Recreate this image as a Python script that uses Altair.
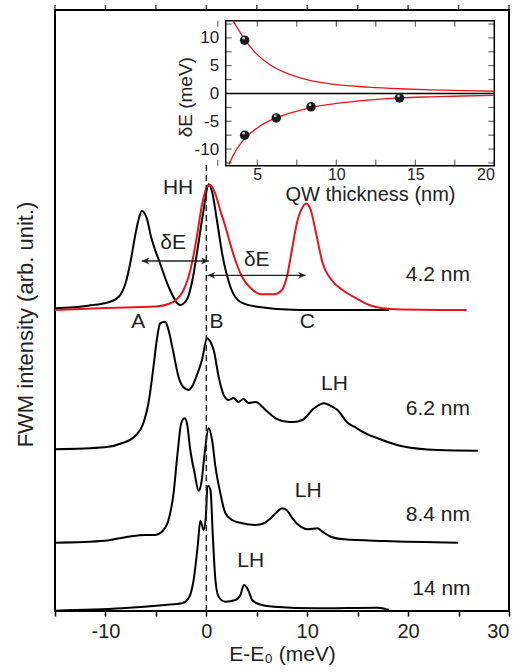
import altair as alt
import pandas as pd

FONT = "Liberation Sans"
RED = "#e3161e"

# ---------------- main panel: FWM spectra (E-E0 in meV, intensity arb. units, vertically offset) -------------
e_42_hh = [-15.0, -11.7, -9.7, -8.7, -8.0, -7.5, -7.1, -6.75, -6.4, -5.9, -5.5, -4.6, -3.6, -2.6, -1.9, -1.3,
           -0.93, -0.27, 0.23, 0.57, 1.06, 1.56, 2.39, 3.38, 5.04, 9.15, 18.1]
i_42_hh = [30.27, 30.53, 30.87, 31.4, 32.8, 35.0, 37.3, 39.0, 40.0, 39.27, 37.5, 34.8, 32.1, 30.6, 31.2, 33.5,
           35.8, 40.1, 42.67, 41.93, 39.0, 35.8, 32.4, 30.9, 30.43, 30.1, 30.1]

e_42_red = [-15.0, -10.0, -5.0, -3.75, -3.0, -2.3, -1.8, -1.4, -0.93, -0.43, 0.07, 0.4, 0.9, 1.4, 1.9, 2.4,
            2.9, 3.55, 4.38, 5.5, 6.7, 7.5, 8.0, 8.5, 9.0, 9.55, 9.9, 10.35, 10.85, 11.5, 12.5, 13.5, 14.8,
            16.15, 17.5, 19.3, 25.8]
i_42_red = [30.1, 30.3, 30.45, 30.7, 31.1, 32.0, 33.3, 34.9, 37.5, 40.6, 42.4, 42.6, 41.7, 40.0, 38.4, 36.6,
            35.0, 33.4, 32.3, 31.67, 31.67, 32.1, 33.5, 36.2, 38.9, 40.4, 40.75, 40.1, 37.9, 34.9, 33.0, 32.1,
            31.3, 30.6, 30.27, 30.15, 30.1]

e_62 = [-15.0, -10.05, -8.39, -7.06, -6.24, -5.74, -5.24, -4.91, -4.58, -4.08, -3.75, -3.25, -2.76, -2.26,
        -1.76, -1.42, -0.93, -0.43, 0.07, 0.40, 0.73, 1.22, 1.72, 2.22, 2.69, 3.18, 3.68, 4.18, 4.88, 5.87,
        6.87, 8.03, 8.66, 9.52, 10.68, 11.67, 12.34, 13.0, 14.0, 14.66, 15.99, 16.99, 19.3, 22.96, 26.94]
i_62 = [16.17, 16.37, 16.77, 17.5, 18.77, 20.77, 24.43, 27.1, 28.77, 28.93, 28.1, 25.77, 23.43, 22.37,
        22.1, 22.43, 23.6, 25.1, 27.27, 26.93, 26.1, 23.43, 21.6, 21.1, 21.3, 20.9, 21.2, 20.8, 20.9, 20.1,
        19.27, 18.93, 18.9, 19.1, 20.27, 20.77, 20.5, 20.1, 18.83, 18.43, 17.67, 17.27, 16.5, 16.1, 16.03]

e_84 = [-15.0, -10.05, -7.73, -6.07, -5.07, -4.41, -3.75, -3.25, -2.82, -2.49, -2.16, -1.92, -1.59, -1.16,
        -0.77, -0.50, -0.17, 0.23, 0.57, 0.90, 1.39, 1.89, 2.56, 3.55, 4.88, 5.72, 6.37, 7.03, 7.53, 8.03,
        8.53, 9.35, 10.02, 11.01, 11.51, 12.34, 13.66, 17.64, 24.95]
i_84 = [6.83, 7.03, 7.43, 7.6, 7.6, 7.93, 9.1, 11.77, 16.1, 18.77, 19.27, 18.77, 16.1, 13.77,
        12.03, 12.77, 15.77, 18.27, 17.1, 14.43, 11.77, 9.77, 9.1, 8.77, 8.6, 8.77, 9.27, 9.93, 10.27, 10.03,
        9.27, 8.43, 8.17, 8.27, 7.93, 7.43, 7.17, 7.0, 6.83]

e_14 = [-15.0, -8.39, -4.08, -2.42, -1.76, -1.26, -0.83, -0.60, -0.43, -0.27, -0.03, 0.10, 0.23, 0.43, 0.63,
        0.90, 1.22, 1.89, 2.89, 3.38, 3.73, 4.15, 4.55, 5.20, 6.70, 11.01, 16.99, 18.1]
i_14 = [0.03, 0.27, 0.6, 0.77, 1.27, 3.1, 6.77, 9.03, 8.6, 8.1, 9.77, 12.4, 12.5, 11.93, 7.77,
        3.1, 1.43, 0.93, 1.1, 1.6, 2.6, 2.1, 1.1, 0.7, 0.43, 0.27, 0.33, 0.1]

trace_names = ["4.2 nm", "4.2 nm (LH)", "6.2 nm", "8.4 nm", "14 nm"]
trace_colors = ["black", RED, "black", "black", "black"]

# annotations in the main panel
label_text = ["HH", "δE", "δE", "A", "B", "C", "4.2 nm", "LH", "6.2 nm", "LH", "8.4 nm", "LH", "14 nm"]
label_e = [-2.8, -3.3, 5.0, -6.75, 1.0, 10.0, 22.95, 12.7, 22.95, 10.1, 22.95, 4.4, 23.3]
label_i = [42.3, 36.8, 35.1, 28.9, 28.9, 28.9, 33.6, 22.7, 20.2, 12.0, 9.6, 5.0, 2.2]

arrow_start = [-6.4, 0.13]
arrow_end = [0.23, 9.85]
arrow_level = [35.0, 33.57]

dash_e = [0]
dash_top = [44.8]

main_ticks = [-15, -10, -5, 0, 5, 10, 15, 20, 25, 30]
main_e_domain = [-15, 30]
main_i_domain = [0, 60.1]

# ---------------- inset: delta E versus QW thickness -------------
qw_thickness = [4.2, 4.2, 6.2, 8.4, 14.0]
delta_e = [9.6, -7.5, -4.4, -2.4, -0.8]

fit_up_l = [3.45, 3.7, 4.0, 4.5, 5.0, 5.5, 6.0, 7.0, 8.0, 9.0, 10.0, 12.0, 14.0, 16.0, 18.0, 20.0]
fit_up_de = [13.1, 12.0, 10.6, 8.6, 7.0, 5.8, 4.8, 3.5, 2.6, 2.0, 1.6, 1.15, 0.85, 0.65, 0.5, 0.4]
fit_lo_l = [3.2, 3.5, 4.0, 4.5, 5.0, 5.5, 6.0, 7.0, 8.0, 9.0, 10.0, 12.0, 14.0, 16.0, 18.0, 20.0]
fit_lo_de = [-12.8, -11.0, -8.8, -7.3, -6.2, -5.3, -4.6, -3.6, -2.8, -2.2, -1.8, -1.2, -0.8, -0.6, -0.45, -0.35]

inset_x_ticks = [2.5, 5, 7.5, 10, 12.5, 15, 17.5, 20]
inset_y_ticks = [-12.5, -10, -7.5, -5, -2.5, 0, 2.5, 5, 7.5, 10, 12.5]
inset_x_labels = [5, 10, 15, 20]
inset_y_labels = [-10, -5, 0, 5, 10]
inset_l_domain = [3, 20]
inset_de_domain = [-13, 13.1]

# ---------------- build tables -------------
frames = []
for name, e, i in zip(trace_names, [e_42_hh, e_42_red, e_62, e_84, e_14],
                      [i_42_hh, i_42_red, i_62, i_84, i_14]):
    frames.append(pd.DataFrame({"E": e, "I": i, "trace": name, "k": range(len(e))}))
spectra = pd.concat(frames, ignore_index=True)

labels = pd.DataFrame({"E": label_e, "I": label_i, "t": label_text})
arrows = pd.DataFrame({"E": arrow_start, "E2": arrow_end, "I": arrow_level})
arrow_tips_l = pd.DataFrame({"E": arrow_start, "I": arrow_level})
arrow_tips_r = pd.DataFrame({"E": arrow_end, "I": arrow_level})
dash = pd.DataFrame({"E": dash_e, "I": [main_i_domain[0]], "I2": dash_top})
top_ticks = pd.DataFrame({"E": main_ticks})

points = pd.DataFrame({"L": qw_thickness, "dE": delta_e})
fits = pd.concat([
    pd.DataFrame({"L": fit_up_l, "dE": fit_up_de, "branch": "up", "k": range(len(fit_up_l))}),
    pd.DataFrame({"L": fit_lo_l, "dE": fit_lo_de, "branch": "lo", "k": range(len(fit_lo_l))}),
], ignore_index=True)
inset_box = pd.DataFrame({"L": [inset_l_domain[0]], "L2": [inset_l_domain[1]],
                          "dE": [inset_de_domain[0]], "dE2": [inset_de_domain[1]]})
zero_line = pd.DataFrame({"L": [inset_l_domain[0]], "L2": [inset_l_domain[1]], "dE": [0]})
xt_bottom = pd.DataFrame({"L": inset_x_ticks, "dE": inset_de_domain[0]})
xt_top = pd.DataFrame({"L": inset_x_ticks, "dE": inset_de_domain[1]})
yt_left = pd.DataFrame({"dE": inset_y_ticks, "L": inset_l_domain[0]})
yt_right = pd.DataFrame({"dE": inset_y_ticks, "L": inset_l_domain[1]})

W, H = 454, 601

# ---------------- main layers (identical encodings everywhere so axes merge) -------------
x_main = alt.X("E:Q", scale=alt.Scale(domain=main_e_domain, nice=False, zero=False),
               axis=alt.Axis(values=main_ticks,
                             labelExpr="datum.value % 10 === 0 ? '' + datum.value : ''",
                             title="E-E₀ (meV)", tickSize=5, tickWidth=1.5, tickColor="black",
                             domain=False, grid=False, labelFontSize=20, labelPadding=5,
                             labelColor="#222", titleColor="#222",
                             titleFontSize=21, titlePadding=2, titleFontWeight="normal"))
y_main = alt.Y("I:Q", scale=alt.Scale(domain=main_i_domain, nice=False, zero=False),
               axis=alt.Axis(title="FWM intensity (arb. unit.)", labels=False, ticks=False,
                             domain=False, grid=False, titleFontSize=22, titleFontWeight="normal",
                             titleColor="#222", titleX=-30, titleY=314, titleAngle=270,
                             titleAlign="center", titleBaseline="middle"))

lines = alt.Chart(spectra).mark_line(strokeWidth=2, strokeJoin="round", interpolate="monotone").encode(
    x=x_main, y=y_main,
    color=alt.Color("trace:N", scale=alt.Scale(domain=trace_names, range=trace_colors), legend=None),
    detail="trace:N", order="k:Q")

dashed = alt.Chart(dash).mark_rule(strokeDash=[6, 4], strokeWidth=1.5, color="#222").encode(
    x=x_main, y=y_main, y2="I2:Q")

texts = alt.Chart(labels).mark_text(font=FONT, fontSize=21, color="#222", align="center",
                                    baseline="middle").encode(x=x_main, y=y_main, text="t:N")

arrow_lines = alt.Chart(arrows).mark_rule(strokeWidth=1.3, color="#222").encode(
    x=x_main, x2="E2:Q", y=y_main)
head_left = alt.Chart(arrow_tips_l).mark_point(shape="M0,0L1,-0.45L0.7,0L1,0.45Z", size=230, filled=True,
                                               color="#222", opacity=1).encode(x=x_main, y=y_main)
head_right = alt.Chart(arrow_tips_r).mark_point(shape="M0,0L-1,-0.45L-0.7,0L-1,0.45Z", size=230, filled=True,
                                                color="#222", opacity=1).encode(x=x_main, y=y_main)
top_tick_marks = alt.Chart(top_ticks).mark_tick(orient="vertical", size=5, thickness=1.5, color="black",
                                                yOffset=-2.5).encode(x=x_main, y=alt.value(0))

main = alt.layer(lines, dashed, arrow_lines, head_left, head_right, texts, top_tick_marks)

# ---------------- inset layers -------------
x_in = alt.X("L:Q", scale=alt.Scale(domain=inset_l_domain, range=[170.7, 439.3], nice=False, zero=False),
             axis=alt.Axis(orient="bottom", offset=-445.3, values=inset_x_labels, ticks=False, tickSize=0,
                           domain=False, grid=False, labelFontSize=16, labelPadding=1, labelColor="#222",
                           title="QW thickness (nm)", titleFontSize=20, titleFontWeight="normal",
                           titleColor="#222", titleX=315, titleY=29, titleBaseline="middle",
                           titleAlign="center"))
y_in = alt.Y("dE:Q", scale=alt.Scale(domain=inset_de_domain, range=[155.7, 10.7], nice=False, zero=False),
             axis=alt.Axis(orient="left", offset=-170.7, values=inset_y_labels, ticks=False, tickSize=0,
                           domain=False, grid=False, labelFontSize=17, labelPadding=7, labelColor="#222",
                           labelExpr="'' + datum.value",
                           title="δE (meV)", titleFontSize=19, titleFontWeight="normal", titleColor="#222",
                           titleX=-40.7, titleY=86.7, titleAngle=270, titleAlign="center",
                           titleBaseline="middle"))

box = alt.Chart(inset_box).mark_rect(fill="white", stroke="black", strokeWidth=1.5).encode(
    x=x_in, x2="L2:Q", y=y_in, y2="dE2:Q")
zero = alt.Chart(zero_line).mark_rule(color="black", strokeWidth=1.3).encode(
    x=x_in, x2="L2:Q", y=y_in)
fit_lines = alt.Chart(fits).mark_line(color=RED, strokeWidth=1.3, clip=True, interpolate="monotone").encode(
    x=x_in, y=y_in, detail="branch:N", order="k:Q")
balls = alt.Chart(points).mark_point(shape="circle", size=90, filled=True, color="#1a1a1a",
                                     opacity=1).encode(x=x_in, y=y_in)
shine = alt.Chart(points).mark_point(shape="circle", size=7, filled=True, color="#d8d8d8", opacity=0.9,
                                     xOffset=-1, yOffset=-2).encode(x=x_in, y=y_in)
tb = alt.Chart(xt_bottom).mark_tick(orient="vertical", size=6, thickness=1, color="black",
                                    yOffset=-3).encode(x=x_in, y=y_in)
tt = alt.Chart(xt_top).mark_tick(orient="vertical", size=6, thickness=1, color="black",
                                 yOffset=3).encode(x=x_in, y=y_in)
tl = alt.Chart(yt_left).mark_tick(orient="horizontal", size=6, thickness=1, color="black",
                                  xOffset=3).encode(x=x_in, y=y_in)
tr = alt.Chart(yt_right).mark_tick(orient="horizontal", size=6, thickness=1, color="black",
                                   xOffset=-3).encode(x=x_in, y=y_in)

inset = alt.layer(box, zero, fit_lines, balls, shine, tb, tt, tl, tr)

chart = alt.layer(main, inset).resolve_scale(x="independent", y="independent").properties(
    width=W, height=H,
    autosize=alt.AutoSizeParams(type="none"),
    padding={"left": 55, "top": 10, "right": 19, "bottom": 61},
).configure(font=FONT).configure_view(stroke="black", strokeWidth=2)

chart.save("out.html", embed_options={"renderer": "svg", "actions": False})
